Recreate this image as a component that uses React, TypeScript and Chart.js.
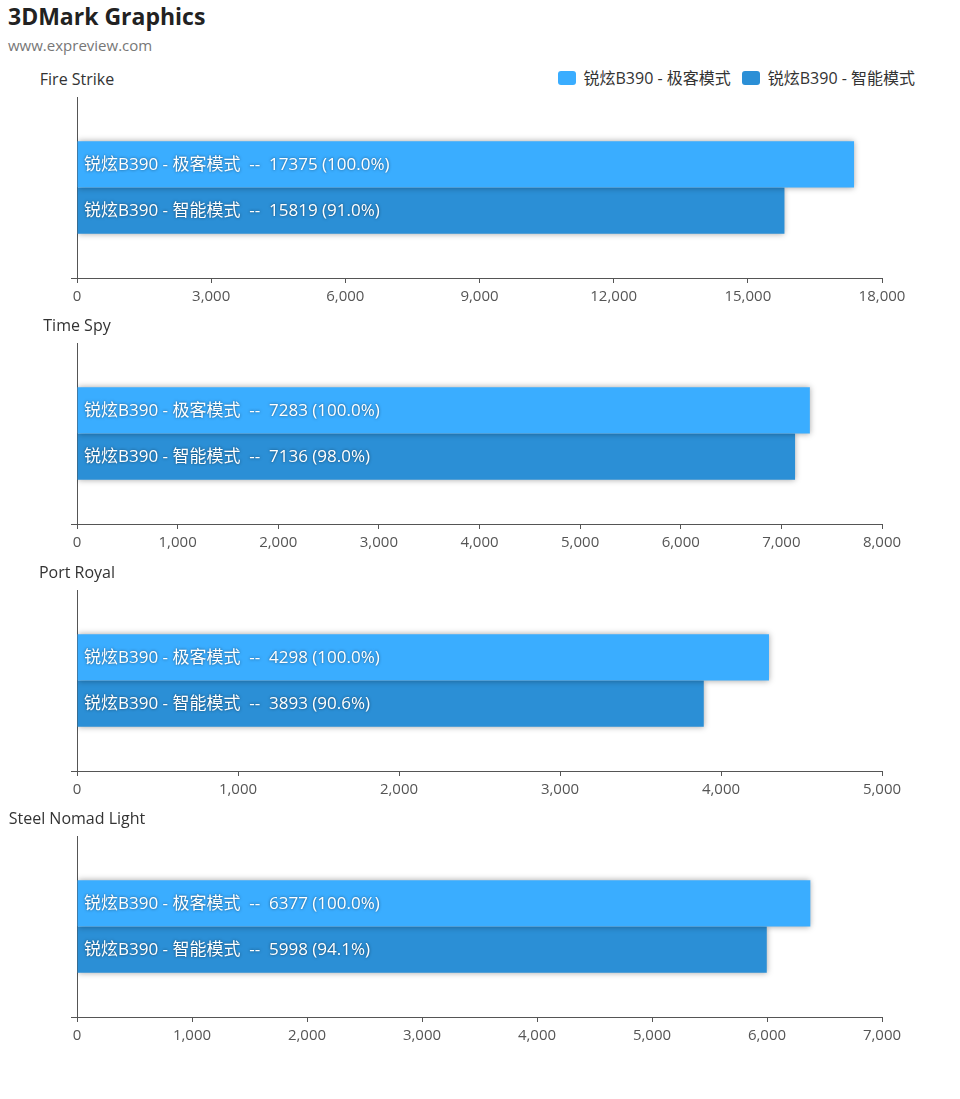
import React, { useEffect, useRef } from 'react';
import { Chart, registerables } from 'chart.js';

Chart.register(...registerables);

const FONT = '"Open Sans", "Noto Sans CJK SC", sans-serif';

const chartTitle = '3DMark Graphics';
const chartSubtitle = 'www.expreview.com';
const seriesNames = ['锐炫B390 - 极客模式', '锐炫B390 - 智能模式'];
const seriesColors = ['#3AADFF', '#2B8FD6'];
const benchmarks = ['Fire Strike', 'Time Spy', 'Port Royal', 'Steel Nomad Light'];
const extremeScores = [17375, 7283, 4298, 6377];
const smartScores = [15819, 7136, 3893, 5998];
const axisMax = [18000, 8000, 5000, 7000];
const axisStep = [3000, 1000, 1000, 1000];

const PANEL_TOP = 96.5;
const PANEL_GAP = 246.5;
const PLOT_H = 181;
const PAD_TOP = 10;
const AXIS_H = 40;

const shadowPlugin = {
  id: 'barShadow',
  beforeDatasetsDraw(chart: any) {
    const c = chart.ctx;
    c.save();
    c.shadowColor = 'rgba(0,0,0,0.35)';
    c.shadowBlur = 6;
  },
  afterDatasetsDraw(chart: any) {
    chart.ctx.restore();
  },
};

const barLabelPlugin = {
  id: 'barLabels',
  afterDraw(chart: any) {
    const c = chart.ctx;
    const base = chart.data.datasets[0].data[0] as number;
    c.save();
    c.font = `17px ${FONT}`;
    c.fillStyle = '#ffffff';
    c.textBaseline = 'middle';
    c.textAlign = 'left';
    c.shadowColor = 'rgba(0,0,0,0.55)';
    c.shadowBlur = 3;
    chart.data.datasets.forEach((ds: any, di: number) => {
      const meta = chart.getDatasetMeta(di);
      meta.data.forEach((bar: any, i: number) => {
        const v = ds.data[i] as number;
        const pct = ((v / base) * 100).toFixed(1);
        const text = `${ds.label}  --  ${v} (${pct}%)`;
        c.fillText(text, chart.chartArea.left + 7, bar.y + 1);
      });
    });
    c.restore();
  },
};

function Panel({ index }: { index: number }) {
  const ref = useRef<HTMLCanvasElement>(null);
  const top = Math.round(PANEL_TOP + PANEL_GAP * index - PAD_TOP);
  useEffect(() => {
    if (!ref.current) return;
    const chart = new Chart(ref.current, {
      type: 'bar',
      data: {
        labels: [benchmarks[index]],
        datasets: [
          {
            label: seriesNames[0],
            data: [extremeScores[index]],
            backgroundColor: seriesColors[0],
            categoryPercentage: 0.51,
            barPercentage: 1,
          },
          {
            label: seriesNames[1],
            data: [smartScores[index]],
            backgroundColor: seriesColors[1],
            categoryPercentage: 0.51,
            barPercentage: 1,
          },
        ],
      },
      options: {
        indexAxis: 'y',
        responsive: false,
        animation: false,
        devicePixelRatio: 1,
        layout: { padding: { left: 77, right: 78, top: PAD_TOP, bottom: 0 } },
        plugins: {
          legend: { display: false },
          tooltip: { enabled: false },
          title: { display: false },
        },
        scales: {
          y: {
            type: 'category',
            offset: true,
            ticks: { display: false },
            grid: {
              offset: true,
              drawOnChartArea: false,
              drawTicks: true,
              tickLength: 6,
              color: (c: any) => (c.type === 'scale' ? '#555555' : 'rgba(0,0,0,0)'),
            },
            border: { color: '#555555', width: 1 },
            afterFit: (s: any) => {
              s.width = 0;
            },
          },
          x: {
            type: 'linear',
            min: 0,
            max: axisMax[index],
            ticks: {
              stepSize: axisStep[index],
              color: '#555555',
              font: { family: FONT, size: 15 },
              padding: 5,
            },
            grid: {
              drawOnChartArea: false,
              drawTicks: true,
              tickLength: 5,
              color: '#555555',
            },
            border: { color: '#555555', width: 1 },
            afterFit: (s: any) => {
              s.height = AXIS_H;
            },
          },
        },
      },
      plugins: [shadowPlugin, barLabelPlugin],
    });
    return () => chart.destroy();
  }, [index]);

  return (
    <>
      <div
        style={{
          position: 'absolute',
          left: 77,
          top: top + PAD_TOP - 29,
          transform: 'translateX(-50%)',
          whiteSpace: 'nowrap',
          fontFamily: FONT,
          fontSize: 16,
          color: '#333',
          lineHeight: '22px',
        }}
      >
        {benchmarks[index]}
      </div>
      <canvas
        ref={ref}
        width={960}
        height={PAD_TOP + PLOT_H + AXIS_H}
        style={{ position: 'absolute', left: 0, top, width: 960, height: PAD_TOP + PLOT_H + AXIS_H }}
      />
    </>
  );
}

export default function App() {
  return (
    <div
      style={{
        position: 'absolute',
        left: 0,
        top: 0,
        width: 960,
        height: 1099,
        background: '#fff',
        fontFamily: FONT,
      }}
    >
      <div
        style={{
          position: 'absolute',
          left: 8,
          top: 0,
          fontSize: 23,
          fontWeight: 'bold',
          color: '#222',
          lineHeight: '32px',
        }}
      >
        {chartTitle}
      </div>
      <div
        style={{
          position: 'absolute',
          left: 8,
          top: 34,
          fontSize: 15,
          color: '#777',
          lineHeight: '22px',
        }}
      >
        {chartSubtitle}
      </div>
      <div
        style={{
          position: 'absolute',
          right: 45,
          top: 67,
          display: 'flex',
          alignItems: 'center',
          fontSize: 16,
          color: '#333',
          lineHeight: '22px',
        }}
      >
        {seriesNames.map((n, i) => (
          <div key={n} style={{ display: 'flex', alignItems: 'center', marginLeft: i ? 11 : 0 }}>
            <span
              style={{
                display: 'inline-block',
                width: 18,
                height: 14,
                borderRadius: 3,
                background: seriesColors[i],
                marginRight: 8,
              }}
            />
            <span>{n}</span>
          </div>
        ))}
      </div>
      {benchmarks.map((_, i) => (
        <Panel key={i} index={i} />
      ))}
    </div>
  );
}
